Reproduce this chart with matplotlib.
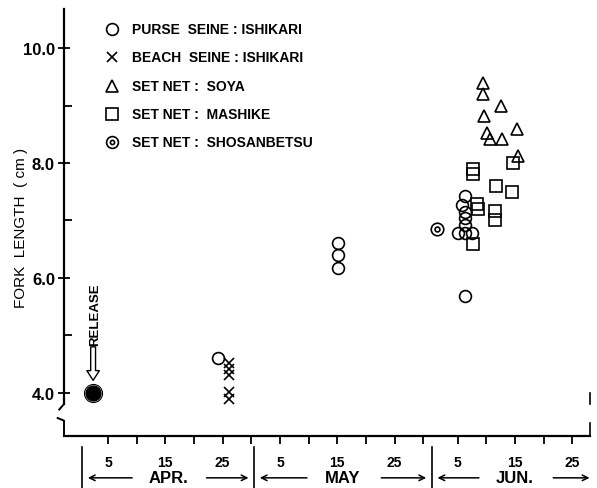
# Fork length of released chum salmon fry vs. date of capture
import matplotlib.pyplot as plt
from matplotlib.ticker import FixedLocator

# day numbers: 1 = Apr 1, 31 = May 1, 62 = Jun 1
purse_x = [24.2, 45.1, 45.1, 45.1, 67.3, 66.7, 67.3, 67.3, 67.3, 66.1, 67.3, 68.5, 67.3]
purse_y = [4.6, 6.6, 6.4, 6.18, 7.42, 7.27, 7.15, 7.05, 6.93, 6.78, 6.78, 6.78, 5.68]

beach_x = [26.1, 26.1, 26.1, 26.1, 26.1]
beach_y = [4.52, 4.42, 4.32, 4.02, 3.9]

soya_x = [70.4, 70.5, 73.5, 70.6, 76.4, 71.1, 71.7, 73.7, 76.6]
soya_y = [9.40, 9.20, 9.00, 8.82, 8.59, 8.52, 8.42, 8.42, 8.12]

mashike_x = [68.7, 68.7, 72.7, 75.5, 75.6, 72.5, 72.5, 69.3, 69.6, 68.7]
mashike_y = [7.90, 7.81, 7.60, 7.50, 8.00, 7.17, 7.00, 7.28, 7.20, 6.59]

shosan_x = [62.4]
shosan_y = [6.85]

release_x = 2.4
release_y = 4.0

legend_labels = ['PURSE  SEINE : ISHIKARI', 'BEACH  SEINE : ISHIKARI',
                 'SET NET :  SOYA', 'SET NET :  MASHIKE', 'SET NET :  SHOSANBETSU']

month_names = ['APR.', 'MAY', 'JUN.']
month_start = [0.5, 30.5, 61.5]
month_end = [30.5, 61.5, 92.0]
month_mid = [15.5, 46.0, 76.0]
tick_days = [5, 10, 15, 20, 25, 30, 35, 40, 45, 50, 55, 60, 66, 71, 76, 81, 86]
tick_labels = ['5', '', '15', '', '25', '', '5', '', '15', '', '25', '',
               '5', '', '15', '', '25']

plt.rcParams['font.family'] = ['Liberation Sans', 'DejaVu Sans']
plt.rcParams['font.weight'] = 'bold'

fig = plt.figure(figsize=(5.97, 4.89), dpi=100)
ax = fig.add_axes([64/597, 52/489, 526/597, 427/489])
ax.set_xlim(-2.68, 89.1)
ax.set_ylim(3.25, 10.68)

lw = 1.2
ax.plot(purse_x, purse_y, 'o', ms=8.5, mfc='none', mec='black', mew=lw, clip_on=False)
ax.plot(beach_x, beach_y, 'x', ms=6.5, mec='black', mew=lw)
ax.plot(soya_x, soya_y, '^', ms=8.5, mfc='none', mec='black', mew=lw)
ax.plot(mashike_x, mashike_y, 's', ms=8, mfc='none', mec='black', mew=lw)
ax.plot(shosan_x, shosan_y, 'o', ms=9, mfc='none', mec='black', mew=lw)
ax.plot(shosan_x, shosan_y, 'o', ms=3.5, mfc='none', mec='black', mew=lw)

# release point
ax.plot([release_x], [release_y], 'o', ms=10.5, mfc='black', mec='black', mew=lw)
ax.plot([release_x], [release_y], 'o', ms=13, mfc='none', mec='black', mew=0.8)
ax.annotate('', xy=(release_x, 4.17), xytext=(release_x, 4.85),
            arrowprops=dict(arrowstyle='simple,head_width=0.9,head_length=0.7,tail_width=0.35',
                            fc='white', ec='black', lw=1.0))
ax.text(release_x + 0.3, 5.38, 'RELEASE', rotation=90, ha='center', va='center', fontsize=9.5)

# legend (hand placed)
leg_y = [10.33, 9.84, 9.34, 8.85, 8.36]
leg_marker = ['o', 'x', '^', 's', 'o']
for i in range(5):
    ax.plot([5.7], [leg_y[i]], leg_marker[i], ms=8.5 if leg_marker[i] != 'x' else 7.5,
            mfc='none', mec='black', mew=1.2)
    ax.text(9.2, leg_y[i], legend_labels[i], ha='left', va='center', fontsize=10)
ax.plot([5.7], [leg_y[4]], 'o', ms=3, mfc='none', mec='black', mew=1.2)

# axes / spines
for s in ['top', 'right', 'left']:
    ax.spines[s].set_visible(False)
ax.spines['bottom'].set_linewidth(1.6)
ax.plot([0, 0], [1, 0.075], color='black', lw=1.6, transform=ax.transAxes, clip_on=False)
ax.plot([0, -0.009], [0.075, 0.062], color='black', lw=1.4, transform=ax.transAxes, clip_on=False)
ax.plot([-0.012, 0, 0], [0.042, 0.036, 0], color='black', lw=1.4, transform=ax.transAxes, clip_on=False)
ax.plot([1.0, 1.0], [0.1, 0.075], color='black', lw=1.2, transform=ax.transAxes, clip_on=False)
ax.plot([1.0, 1.0], [0.03, 0.0], color='black', lw=1.2, transform=ax.transAxes, clip_on=False)

ax.set_yticks([4, 6, 8, 10])
ax.set_yticklabels(['4.0', '6.0', '8.0', '10.0'], fontsize=12)
ax.yaxis.set_minor_locator(FixedLocator([5, 7, 9]))
ax.tick_params(axis='y', which='major', direction='inout', length=9, width=1.3, pad=2)
ax.tick_params(axis='y', which='minor', direction='in', length=6, width=1.3)
ax.set_ylabel('FORK  LENGTH  ( cm )', fontsize=11)
ax.yaxis.set_label_coords(-0.068, 0.49)

ax.set_xticks(tick_days)
ax.set_xticklabels(tick_labels, fontsize=10)
ax.tick_params(axis='x', direction='out', length=6, width=1.3, pad=8)

# month brackets below the axis
tr = ax.get_xaxis_transform()
for i in range(3):
    x0, x1, mid = month_start[i], month_end[i], month_mid[i]
    ax.plot([x0, x0], [-0.025, -0.13], color='black', lw=1.2, transform=tr, clip_on=False)
    ax.text(mid, -0.098, month_names[i], ha='center', va='center', fontsize=12, transform=tr)
    ax.annotate('', xy=(x0 + 0.5, -0.098), xytext=(mid - 5.8, -0.098), xycoords=tr, textcoords=tr,
                arrowprops=dict(arrowstyle='->', lw=1.1, color='black'), annotation_clip=False)
    ax.annotate('', xy=(min(x1, 90) - 0.5, -0.098), xytext=(mid + 6.2, -0.098), xycoords=tr,
                textcoords=tr, arrowprops=dict(arrowstyle='->', lw=1.1, color='black'),
                annotation_clip=False)

fig.savefig('out.png', dpi=100)
